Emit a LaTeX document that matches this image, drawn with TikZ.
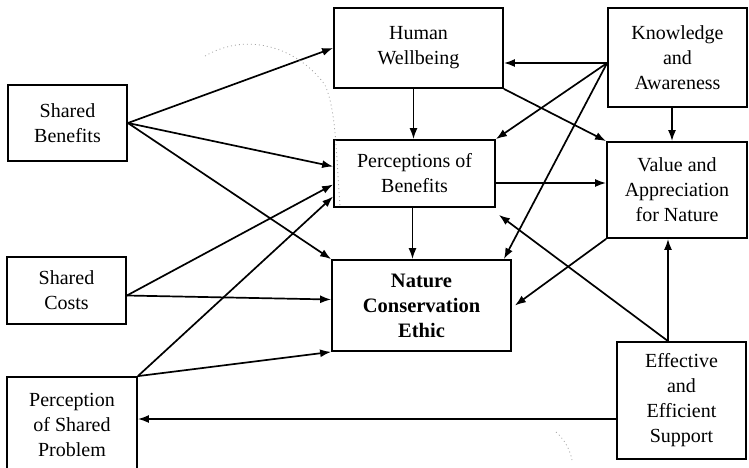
\documentclass[tikz,border=0pt]{standalone}
\usepackage{fontspec}
\setmainfont{Liberation Serif}
\usetikzlibrary{arrows.meta}
\begin{document}
\begin{tikzpicture}[x=1pt,y=-1pt,
  box/.style={draw, line width=1.8pt, align=center, inner sep=2pt,
    font=\fontsize{20}{25}\selectfont},
  arr/.style={line width=1.7pt, -{Latex[length=11pt,width=8pt]}},
  speck/.style={gray!70, line width=0.8pt, dash pattern=on 1pt off 3pt}]
\useasboundingbox (0,0) rectangle (749,467);

% boxes
\node[box, minimum width=119pt, minimum height=76pt] (sb) at (67.5,123) {Shared\\Benefits};
\node[box, minimum width=119pt, minimum height=67pt] (sc) at (66.5,290.5) {Shared\\Costs};
\node[box, minimum width=130pt, minimum height=96pt] (psp) at (72,425) {Perception\\of Shared\\Problem};
\node[box, minimum width=169pt, minimum height=80pt] (hw) at (418.5,48) {Human\\Wellbeing};
\node[box, minimum width=161pt, minimum height=67pt] (pb) at (414.5,173.5) {Perceptions of\\Benefits};
\node[box, minimum width=179pt, minimum height=91pt, font=\fontsize{20.5}{25}\selectfont\bfseries] (nce) at (421.5,305.5) {Nature\\Conservation\\Ethic};
\node[box, minimum width=139pt, minimum height=99pt] (ka) at (677.5,57.5) {Knowledge\\and\\Awareness};
\node[box, minimum width=140pt, minimum height=96pt] (va) at (677,190) {Value and\\Appreciation\\for Nature};
\node[box, minimum width=129pt, minimum height=117pt] (es) at (681.5,400.5) {Effective\\and\\Efficient\\Support};

% links from the three shared factors
\draw[arr] (sb.east) -- (hw.west);
\draw[arr] (sb.east) -- ([yshift=7pt]pb.west);
\draw[arr] (sb.east) -- (nce.north west);
\draw[arr] ([yshift=-5pt]sc.east) -- ([yshift=-11pt]pb.west);
\draw[arr] ([yshift=-5pt]sc.east) -- ([yshift=6pt]nce.west);
\draw[arr] (psp.north east) -- ([yshift=-23pt]pb.west);
\draw[arr] (psp.north east) -- (nce.south west);

% links in the centre column
\draw[arr] ([xshift=-5pt]hw.south) -- ([xshift=-5pt]hw.south |- pb.north);
\draw[arr] ([xshift=-2pt]pb.south) -- ([xshift=-2pt]pb.south |- nce.north);
\draw[arr] (hw.south east) -- (va.north west);
\draw[arr] ([yshift=-9.5pt]pb.east) -- ([yshift=-9.5pt]pb.east -| va.west);

% links from knowledge and awareness
\draw[arr] ([yshift=-5.5pt]ka.west) -- ([yshift=-5.5pt]ka.west -| hw.east);
\draw[arr] ([yshift=-5.5pt]ka.west) -- (pb.north east);
\draw[arr] ([yshift=-5.5pt]ka.west) -- ([xshift=-8pt]nce.north east);
\draw[arr] ([xshift=-5.5pt]ka.south) -- ([xshift=-5.5pt]ka.south |- va.north);

% links from value and from support
\draw[arr] (va.south west) -- ([xshift=3pt]nce.east);
\draw[arr] ([xshift=-13.5pt]es.north) -- ([xshift=-13.5pt]es.north |- va.south);
\draw[arr] ([xshift=-13.5pt]es.north) -- ([shift={(3pt,-7pt)}]pb.south east);
\draw[arr] ([yshift=-18.5pt]es.west) -- ([yshift=-18.5pt]es.west -| psp.east);

% faint scanning traces
\draw[speck] (205,56) .. controls (250,30) and (300,50) .. (325,85)
  .. controls (336,110) and (336,150) .. (340,206);
\draw[speck] (556,432) .. controls (565,440) and (570,450) .. (572,460);
\end{tikzpicture}
\end{document}
